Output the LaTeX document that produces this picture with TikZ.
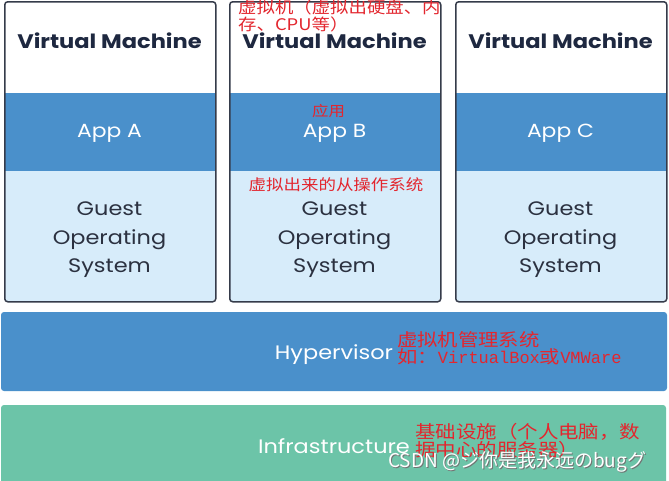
\documentclass[tikz,border=0pt]{standalone}
\usepackage{fontspec}
\setmainfont{Poppins}[FakeStretch=1.15]
\newfontfamily\cjk{Noto Sans CJK SC}[FakeStretch=1.15]
\newfontfamily\cjkplain{Noto Sans CJK SC}
\newfontfamily\monofam{Liberation Mono}
\definecolor{appblue}{HTML}{4A90CB}
\definecolor{guestblue}{HTML}{D7ECFA}
\definecolor{infragreen}{HTML}{6CC4A8}
\definecolor{framec}{HTML}{353B4A}
\definecolor{vmtext}{HTML}{1E2840}
\definecolor{ostext}{HTML}{2B3140}
\definecolor{note}{HTML}{E3262E}
\begin{document}
\begin{tikzpicture}[x=1pt,y=-1pt,
  vmtitle/.style={text=vmtext,font=\fontsize{19.6}{24}\selectfont\bfseries},
  apptext/.style={text=white,font=\fontsize{19}{22}\selectfont},
  ostextst/.style={text=ostext,font=\fontsize{19.5}{28.5}\selectfont,align=center},
  bartext/.style={text=white,font=\fontsize{19.5}{22}\selectfont},
  notetext/.style={text=note,align=left,inner sep=0pt,anchor=north west},
  frameline/.style={draw=framec,line width=1.5pt,rounded corners=3pt}
]
\useasboundingbox (0,0) rectangle (669,480);
\fill[white] (0,0) rectangle (669,480);

% virtual machines
\foreach \xl/\lab/\n in {4/A/a,229/B/b,455/C/c}{
  \fill[guestblue,rounded corners=3pt] (\xl,150) rectangle (\xl+211,301);
  \fill[appblue] (\xl,93) rectangle (\xl+211,171);
  \node[frameline,minimum width=211pt,minimum height=300pt,inner sep=0pt,anchor=north west] (vm\n) at (\xl,1) {};
  \node[vmtitle] (title\n) at (\xl+105.5,40.5) {Virtual Machine};
  \node[apptext] (app\n) at (\xl+105.5,133.5) {App \lab};
  \node[ostextst] (os\n) at (\xl+105.5,240) {Guest\\Operating\\System};
}

% hypervisor and infrastructure
\fill[appblue,rounded corners=3pt] (1,312) rectangle (667,391);
\node[bartext] (hyptext) at (334,355) {Hypervisor};
\fill[infragreen,rounded corners=3pt] (1,405) rectangle (666,484);
\node[bartext] (inftext) at (334,446) {Infrastructure};

% annotations
\node[notetext,font=\cjk\fontsize{16}{14.5}\selectfont] (n1) at (238,0) {虚拟机（虚拟出硬盘、内\\存、CPU等）};
\node[notetext,font=\cjk\fontsize{14.3}{16}\selectfont,anchor=center] (n2) at (328.5,111) {应用};
\node[notetext,font=\cjk\fontsize{15.2}{17}\selectfont,anchor=center] (n3) at (336,185) {虚拟出来的从操作系统};
\node[notetext,font=\cjk\fontsize{17.7}{17}\selectfont] (n4) at (397,331) {虚拟机管理系统\\如：{\monofam\fontsize{17}{17}\selectfont VirtualBox}或{\monofam\fontsize{17}{17}\selectfont VMWare}};
\node[notetext,font=\cjk\fontsize{17.8}{13.5}\selectfont] (n5) at (415,423) {基础设施（个人电脑，数\\据中心的服务器）};

% watermark
\node[text=black!55,font=\cjkplain\fontsize{19}{22}\selectfont,anchor=west,inner sep=0pt] (wmshadow) at (389,463) {CSDN @ジ你是我永远のbugグ};
\node[text=white,font=\cjkplain\fontsize{19}{22}\selectfont,anchor=west,inner sep=0pt] (wm) at (388,462) {CSDN @ジ你是我永远のbugグ};
\end{tikzpicture}
\end{document}
